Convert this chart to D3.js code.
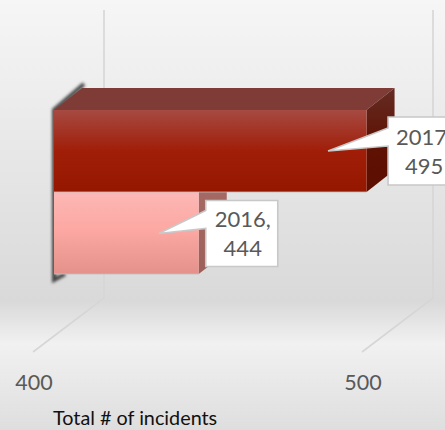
<!DOCTYPE html>
<html><head><meta charset="utf-8">
<style>html,body{margin:0;padding:0;overflow:hidden;background:#eee}svg{display:block}text{font-family:Lato,"Open Sans",sans-serif}</style>
<script src="https://cdn.jsdelivr.net/npm/d3@7/dist/d3.min.js"></script></head>
<body><div id="c"></div>
<script>
const years = ["2016", "2017"];
const incidents = [444, 495];
const tickValues = [400, 500];
const axisTitle = "Total # of incidents";

const W = 445, H = 430;
const svg = d3.select("#c").append("svg").attr("width", W).attr("height", H);
const defs = svg.append("defs");
function grad(id, stops, x2 = 0, y2 = 1) {
  const g = defs.append("linearGradient").attr("id", id).attr("x1", 0).attr("y1", 0).attr("x2", x2).attr("y2", y2);
  stops.forEach(([o, c]) => g.append("stop").attr("offset", o).attr("stop-color", c));
}
grad("bg", [[0, "#f6f6f6"], [.70, "#d9d9d9"], [.80, "#f1f1f1"], [1, "#dedede"]]);
grad("front2017", [[0, "#a64a42"], [.5, "#a01e08"], [1, "#951700"]]);
grad("front2016", [[0, "#fcb8b6"], [.45, "#fda8a3"], [1, "#e4918b"]]);
grad("side2017", [[0, "#652c24"], [.5, "#5f1305"], [1, "#5c0e00"]]);
grad("side2016", [[0, "#a86c66"], [1, "#9c605b"]]);
const blur = defs.append("filter").attr("id", "blur").attr("x", "-50%").attr("y", "-10%").attr("width", "200%").attr("height", "120%");
blur.append("feGaussianBlur").attr("stdDeviation", 1.4);
const soft = defs.append("filter").attr("id", "soft").attr("x", "-5%").attr("y", "-5%").attr("width", "110%").attr("height", "110%");
soft.append("feGaussianBlur").attr("stdDeviation", .5);

svg.append("rect").attr("width", W).attr("height", H).attr("fill", "url(#bg)");

const x = d3.scaleLinear().domain(tickValues).range([54, 383]);
const y = d3.scaleBand().domain(["2017", "2016"]).range([110, 274]).padding(0);
const depth = [28, -22];
const wall = [50, -54];
const floorFront = [-21, 78];

const grid = svg.append("g").attr("fill", "none").attr("stroke", "#d6d6d6").attr("stroke-width", 1.6).attr("filter", "url(#soft)");
tickValues.forEach(t => {
  const bx = x(t) + wall[0];
  grid.append("path").attr("d", d3.line()([[bx, 10], [bx, 298], [x(t) + floorFront[0], 274 + floorFront[1]]]));
});

svg.append("path")
  .attr("d", d3.line()([[x(400) + 30, 84], [x(400), 110], [x(400), 280], [x(400) + 11, 274]]))
  .attr("fill", "none").attr("stroke", "#444").attr("stroke-width", 4).attr("filter", "url(#blur)");

const data = years.map((yr, i) => ({ yr, v: incidents[i] }));
const g = svg.append("g");
data.forEach(d => {
  const x0 = x(400), x1 = x(d.v), y0 = y(d.yr), y1 = y0 + y.bandwidth();
  const poly = p => d3.line()(p) + "Z";
  g.append("path").attr("fill", "#7f3b35")
    .attr("d", poly([[x0, y0], [x0 + depth[0], y0 + depth[1]], [x1 + depth[0], y0 + depth[1]], [x1, y0]]));
  g.append("path").attr("fill", `url(#side${d.yr})`)
    .attr("d", poly([[x1, y0], [x1 + depth[0], y0 + depth[1]], [x1 + depth[0], y1 + depth[1]], [x1, y1]]));
  g.append("rect").attr("x", x0).attr("y", y0).attr("width", x1 - x0).attr("height", y1 - y0)
    .attr("fill", `url(#front${d.yr})`);
  g.append("line").attr("x1", x0).attr("x2", x1).attr("y1", y1).attr("y2", y1)
    .attr("stroke", "#c9bcbc").attr("stroke-width", .8);
});

const callout = {
  "2016": { bx: 7, bt: 8.5, w: 72, h: 66, tipX: -40, tipY: 41.5, a: 10, b: 28, c: 37, l1: 26.5, l2: 55 },
  "2017": { bx: 21.5, bt: 7, w: 80, h: 68, tipX: -38.5, tipY: 41, a: 11, b: 29, c: 36, l1: 28, l2: 57 }
};
data.forEach(d => {
  const c = callout[d.yr], x1 = x(d.v), y0 = y(d.yr);
  const bl = x1 + c.bx, bt = y0 + c.bt;
  const tip = [x1 + c.tipX, y0 + c.tipY];
  const path = d3.line()([[bl, bt], [bl + c.w, bt], [bl + c.w, bt + c.h], [bl, bt + c.h], [bl, bt + c.b], tip, [bl, bt + c.a]]) + "Z";
  const lb = svg.append("g");
  lb.append("path").attr("d", path).attr("fill", "#fff").attr("stroke", "#c8c8c8").attr("stroke-width", 1.6);
  const cx = bl + c.c;
  lb.append("text").attr("x", cx).attr("y", bt + c.l1).attr("text-anchor", "middle").attr("font-size", 22).attr("fill", "#595959").text(d.yr + ",");
  lb.append("text").attr("x", cx).attr("y", bt + c.l2).attr("text-anchor", "middle").attr("font-size", 22).attr("fill", "#595959").text(d.v);
});

tickValues.forEach(t => {
  svg.append("text").attr("x", x(t) - 20).attr("y", 390).attr("text-anchor", "middle")
    .attr("font-size", 21.5).attr("fill", "#595959").text(t);
});
svg.append("text").attr("x", 53).attr("y", 425).attr("font-size", 19.8).attr("fill", "#111").text(axisTitle);
</script></body></html>
